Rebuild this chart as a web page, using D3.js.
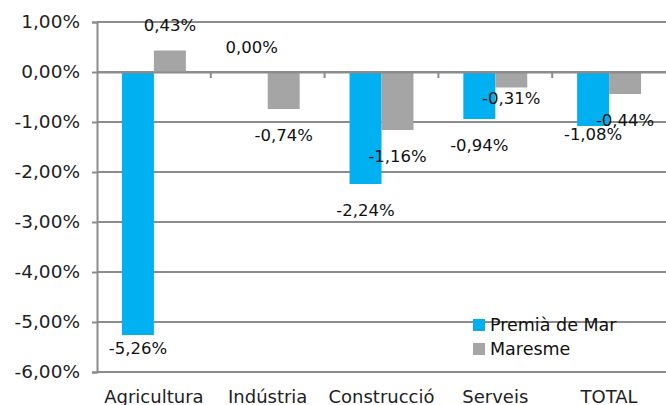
<!DOCTYPE html>
<html><head><meta charset="utf-8">
<script src="https://cdn.jsdelivr.net/npm/d3@7"></script>
<style>html,body{margin:0;padding:0;background:#fff;}svg{display:block;}</style>
</head><body>
<script>
const categories = ["Agricultura", "Indústria", "Construcció", "Serveis", "TOTAL"];
const seriesNames = ["Premià de Mar", "Maresme"];
const premiaValues = [-5.26, 0.00, -2.24, -0.94, -1.08];
const maresmeValues = [0.43, -0.74, -1.16, -0.31, -0.44];
const yTicks = [1, 0, -1, -2, -3, -4, -5, -6];

const W = 666, H = 405;
const colors = {"Premià de Mar": "#00B0F0", "Maresme": "#A5A5A5"};
const fmt = v => v.toFixed(2).replace(".", ",") + "%";
// manual label nudges (pixel distance from bar end to label centre)
const nudge = {"Premià de Mar|Agricultura": 13, "Maresme|Serveis": 11, "Premià de Mar|TOTAL": 8};

const svg = d3.select("body").append("svg").attr("width", W).attr("height", H);

const x0 = d3.scaleBand().domain(categories).range([97, 666]).padding(0);
const x1 = d3.scaleBand().domain(seriesNames).range([0, x0.bandwidth()]).paddingInner(0).paddingOuter(0.78);
const y = d3.scaleLinear().domain([-6, 1]).range([372, 22]);

const gridColor = "#8C8C8C";

// gridlines
svg.append("g").selectAll("line").data(yTicks).join("line")
  .attr("x1", 97).attr("x2", 666)
  .attr("y1", d => y(d)).attr("y2", d => y(d))
  .attr("stroke", gridColor).attr("stroke-width", 2);

// y axis
const yAxis = d3.axisLeft(y).tickValues(yTicks).tickSize(5).tickPadding(12).tickFormat(fmt);
const ya = svg.append("g").attr("transform", "translate(97,0)").call(yAxis);
ya.select(".domain").attr("stroke", gridColor).attr("stroke-width", 2);
ya.selectAll(".tick line").attr("stroke", gridColor).attr("stroke-width", 2);
ya.selectAll("text").attr("font-family", "DejaVu Sans, Verdana, sans-serif").attr("font-size", 18.5).attr("fill", "#222");

// bars
const data = [];
categories.forEach((c, i) => {
  data.push({cat: c, s: seriesNames[0], v: premiaValues[i]});
  data.push({cat: c, s: seriesNames[1], v: maresmeValues[i]});
});
svg.append("g").selectAll("rect").data(data).join("rect")
  .attr("x", d => x0(d.cat) + x1(d.s))
  .attr("width", x1.bandwidth())
  .attr("y", d => y(Math.max(0, d.v)))
  .attr("height", d => Math.abs(y(d.v) - y(0)))
  .attr("fill", d => colors[d.s]);

// zero axis with category ticks
const xAxis = d3.axisBottom(x0).tickSize(0).tickFormat("");
const xa = svg.append("g").attr("transform", `translate(0,${y(0)})`).call(xAxis);
xa.select(".domain").attr("stroke", gridColor).attr("stroke-width", 2);
const bounds = categories.map(c => x0(c)).concat([666]);
svg.append("g").selectAll("line").data(bounds.slice(1, -1)).join("line")
  .attr("x1", d => d).attr("x2", d => d)
  .attr("y1", y(0)).attr("y2", y(0) + 6)
  .attr("stroke", gridColor).attr("stroke-width", 2);

// category labels
svg.append("g").selectAll("text").data(categories).join("text")
  .attr("x", d => x0(d) + x0.bandwidth() / 2)
  .attr("y", 403)
  .attr("text-anchor", "middle")
  .attr("font-family", "DejaVu Sans, Verdana, sans-serif").attr("font-size", 18)
  .attr("fill", "#222")
  .text(d => d);

// data labels
svg.append("g").selectAll("text").data(data).join("text")
  .attr("x", d => x0(d.cat) + x1(d.s) + x1.bandwidth() / 2)
  .attr("y", d => {
    const n = nudge[d.s + "|" + d.cat];
    return d.v >= 0 ? y(d.v) - 25 : y(d.v) + (n !== undefined ? n : 26);
  })
  .attr("dy", "0.36em")
  .attr("text-anchor", "middle")
  .attr("font-family", "DejaVu Sans, sans-serif").attr("font-size", 16.5)
  .attr("fill", "#111")
  .text(d => fmt(d.v));

// legend
const lg = svg.append("g").attr("transform", "translate(473,319)");
seriesNames.forEach((s, i) => {
  const g = lg.append("g").attr("transform", `translate(0,${i * 24})`);
  g.append("rect").attr("width", 12).attr("height", 12).attr("fill", colors[s]);
  g.append("text").attr("x", 17).attr("y", 6).attr("dy", "0.36em")
    .attr("font-family", "DejaVu Sans, Verdana, sans-serif").attr("font-size", 17.5)
    .attr("fill", "#111").text(s);
});
</script>
</body></html>
